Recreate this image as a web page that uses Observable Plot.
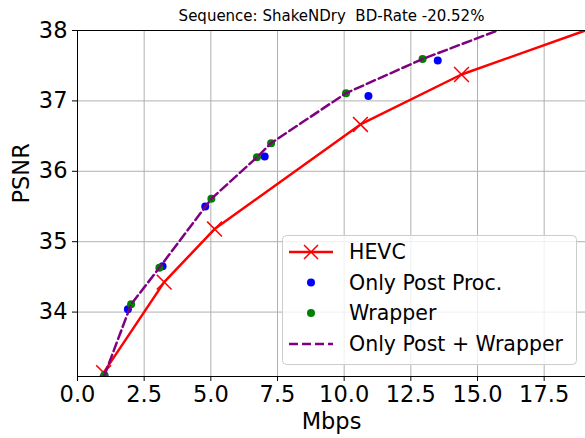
<!DOCTYPE html>
<html>
<head>
<meta charset="utf-8">
<script src="https://cdn.jsdelivr.net/npm/d3@7"></script>
<script src="https://cdn.jsdelivr.net/npm/@observablehq/plot@0.6"></script>
<style>
  html, body { margin: 0; padding: 0; background: white; overflow: hidden; }
  #wrap { position: relative; width: 585px; height: 438px; }
  #legend { position: absolute; left: 282px; top: 235px; }
</style>
</head>
<body>
<div id="wrap"><div id="chart"></div><div id="legend"></div></div>
<script>
// ---- data ----
const titleText = "Sequence: ShakeNDry  BD-Rate -20.52%";
const xLabel = "Mbps";
const yLabel = "PSNR";
const xTicks = [0, 2.5, 5, 7.5, 10, 12.5, 15, 17.5];
const yTicks = [34, 35, 36, 37, 38];

const hevcX = [0.98, 3.25, 5.14, 10.61, 14.4, 20.5];
const hevcY = [33.14, 34.425, 35.18, 36.665, 37.375, 38.197];

const postX = [1.01, 1.89, 3.19, 4.79, 7.02, 10.91, 13.51];
const postY = [33.10, 34.04, 34.65, 35.50, 36.21, 37.07, 37.575];

const wrapX = [1.01, 2.01, 3.07, 5.02, 6.73, 7.26, 10.07, 12.94];
const wrapY = [33.10, 34.11, 34.63, 35.61, 36.20, 36.40, 37.11, 37.595];

const comboX = [1.01, 2.01, 3.07, 5.02, 6.73, 7.26, 10.07, 12.94, 17.0];
const comboY = [33.10, 34.11, 34.63, 35.61, 36.20, 36.40, 37.11, 37.595, 38.18];

const seriesNames = ["HEVC", "Only Post Proc.", "Wrapper", "Only Post + Wrapper"];
const seriesColors = ["#ff0000", "#0000ff", "#008000", "#800080"];

// ---- tables ----
const zip = (xs, ys) => xs.map((x, i) => ({x, y: ys[i]}));
const hevc = zip(hevcX, hevcY);
const post = zip(postX, postY);
const wrap = zip(wrapX, wrapY);
const combo = zip(comboX, comboY);

const xDomain = [0, 19.05];
const yDomain = [33.085, 38];
const font = "DejaVu Sans, sans-serif";

const chart = Plot.plot({
  width: 585,
  height: 438,
  marginLeft: 77,
  marginRight: 0,
  marginTop: 30,
  marginBottom: 62,
  x: {domain: xDomain},
  y: {domain: yDomain},
  style: {fontFamily: font, fontSize: "22.5px", color: "black", background: "white"},
  marks: [
    Plot.gridX(xTicks, {stroke: "#b0b0b0", strokeOpacity: 1, strokeWidth: 1}),
    Plot.gridY(yTicks, {stroke: "#b0b0b0", strokeOpacity: 1, strokeWidth: 1}),
    Plot.line(hevc, {x: "x", y: "y", stroke: seriesColors[0], strokeWidth: 2.5, clip: true}),
    Plot.dot(hevc, {x: "x", y: "y", symbol: "times", r: 6.8, stroke: seriesColors[0], strokeWidth: 1.5, clip: true}),
    Plot.dot(post, {x: "x", y: "y", r: 4, fill: seriesColors[1], stroke: null, clip: true}),
    Plot.dot(wrap, {x: "x", y: "y", r: 4, fill: seriesColors[2], stroke: null, clip: true}),
    Plot.line(combo, {x: "x", y: "y", stroke: seriesColors[3], strokeWidth: 2.5, strokeDasharray: "9,4", clip: true}),
    Plot.ruleX([xDomain[0]], {stroke: "black", strokeWidth: 1}),
    Plot.ruleY([yDomain[0], yDomain[1]], {stroke: "black", strokeWidth: 1}),
    Plot.axisX(xTicks, {tickFormat: d3.format(".1f"), tickSize: 5, tickPadding: 5, label: null, fontSize: 22.5}),
    Plot.axisY(yTicks, {tickFormat: d3.format("d"), tickSize: 5, tickPadding: 5, label: null, fontSize: 22.5}),
    Plot.text([xLabel], {frameAnchor: "bottom", dy: 45, lineAnchor: "middle", fontSize: 22.5, text: d => d}),
    Plot.text([yLabel], {frameAnchor: "left", dx: -56, rotate: -90, lineAnchor: "middle", fontSize: 22.5, text: d => d}),
    Plot.text([titleText], {frameAnchor: "top", dy: -14, lineAnchor: "middle", fontSize: 15, text: d => d})
  ]
});
document.getElementById("chart").appendChild(chart);

// ---- legend ----
const lw = 294, lh = 129;
const lsvg = d3.select("#legend").append("svg")
  .attr("width", lw + 2).attr("height", lh + 2)
  .style("font-family", font);
lsvg.append("rect").attr("x", 0.5).attr("y", 0.5).attr("width", lw).attr("height", lh)
  .attr("rx", 4).attr("fill", "white").attr("fill-opacity", 0.8).attr("stroke", "#cccccc");
const rowY = [17, 47.5, 78, 109];
const hx0 = 7, hx1 = 51, tx = 67;
seriesNames.forEach((name, i) => {
  const g = lsvg.append("g").attr("transform", `translate(0,${rowY[i]})`);
  const c = seriesColors[i];
  if (i === 0) {
    g.append("line").attr("x1", hx0).attr("x2", hx1).attr("stroke", c).attr("stroke-width", 2.5);
    const m = (hx0 + hx1) / 2, s = 7;
    g.append("path").attr("d", `M${m - s},${-s}L${m + s},${s}M${m - s},${s}L${m + s},${-s}`)
      .attr("stroke", c).attr("stroke-width", 1.5);
  } else if (i === 3) {
    g.append("line").attr("x1", hx0).attr("x2", hx1).attr("stroke", c).attr("stroke-width", 2.5)
      .attr("stroke-dasharray", "9,4");
  } else {
    g.append("circle").attr("cx", (hx0 + hx1) / 2).attr("r", 4).attr("fill", c);
  }
  g.append("text").attr("x", tx).attr("dy", "0.35em").attr("font-size", 20.5).attr("fill", "black").text(name);
});
</script>
</body>
</html>
